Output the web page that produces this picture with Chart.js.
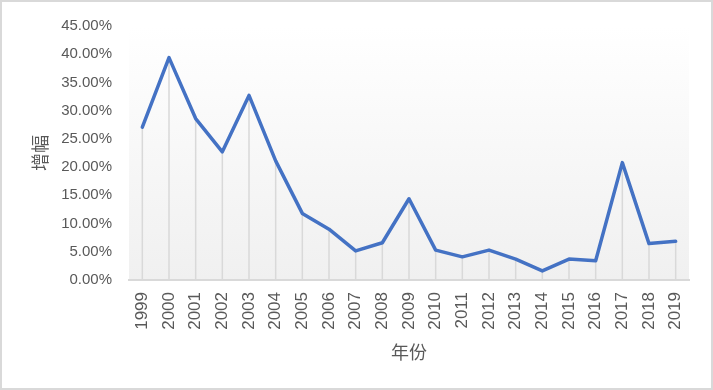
<!DOCTYPE html>
<html>
<head>
<meta charset="utf-8">
<script src="https://cdn.jsdelivr.net/npm/chart.js@4"></script>
<style>
  html, body { margin: 0; padding: 0; background: #fff; }
  #box { width: 713px; height: 390px; position: relative; }
  #chart { outline: 2px solid #d9d9d9; outline-offset: -2px; }
</style>
</head>
<body>
<div id="box"><canvas id="chart" width="713" height="390"></canvas></div>
<script>
const years = ['1999', '2000', '2001', '2002', '2003', '2004', '2005', '2006', '2007', '2008', '2009',
    '2010', '2011', '2012', '2013', '2014', '2015', '2016', '2017', '2018', '2019'];
const growth = [0.2707, 0.394, 0.286, 0.227, 0.327, 0.211, 0.118, 0.09, 0.0515, 0.066, 0.144,
    0.053, 0.041, 0.053, 0.037, 0.016, 0.037, 0.034, 0.208, 0.0645, 0.0686];
const yTicks = [0, 0.05, 0.10, 0.15, 0.20, 0.25, 0.30, 0.35, 0.40, 0.45];

const textColor = '#595959';

// light gradient behind the plot area
const plotBackground = {
    id: 'plotBackground',
    beforeDraw(chart) {
        const { ctx, chartArea } = chart;
        const grad = ctx.createLinearGradient(0, chartArea.top, 0, chartArea.bottom);
        grad.addColorStop(0, '#ffffff');
        grad.addColorStop(1, '#f0f0f0');
        ctx.save();
        ctx.fillStyle = grad;
        ctx.fillRect(chartArea.left, chartArea.top, chartArea.right - chartArea.left, chartArea.bottom - chartArea.top);
        ctx.restore();
    }
};

// vertical drop lines from each point to the axis
const dropLines = {
    id: 'dropLines',
    beforeDatasetsDraw(chart) {
        const { ctx } = chart;
        const meta = chart.getDatasetMeta(0);
        const base = chart.scales.y.getPixelForValue(0);
        ctx.save();
        ctx.strokeStyle = '#d9d9d9';
        ctx.lineWidth = 1.5;
        meta.data.forEach(pt => {
            ctx.beginPath();
            ctx.moveTo(pt.x, pt.y);
            ctx.lineTo(pt.x, base);
            ctx.stroke();
        });
        ctx.restore();
    }
};

const ctx = document.getElementById('chart');
const chart = new Chart(ctx, {
    type: 'line',
    data: {
        labels: years,
        datasets: [{
            data: growth,
            borderColor: '#4472C4',
            borderWidth: 3.5,
            borderCapStyle: 'round',
            borderJoinStyle: 'round',
            pointRadius: 0,
            tension: 0
        }]
    },
    options: {
        responsive: false,
        animation: false,
        layout: { padding: { top: 24, right: 24, left: 0, bottom: 0 } },
        plugins: {
            legend: { display: false },
            tooltip: { enabled: false }
        },
        scales: {
            x: {
                offset: true,
                grid: { display: false, drawTicks: false },
                border: { display: true, color: '#d9d9d9', width: 2 },
                ticks: {
                    color: textColor,
                    font: { family: 'Liberation Sans', size: 17 },
                    minRotation: 90,
                    maxRotation: 90,
                    padding: 12,
                    autoSkip: false
                },
                title: {
                    display: true,
                    text: '年份',
                    color: textColor,
                    font: { family: 'Noto Sans CJK SC', size: 18 },
                    padding: { top: 0, bottom: 27.5 }
                },
                afterFit(scale) { scale.height = 110; }
            },
            y: {
                min: 0,
                max: 0.45,
                grid: { display: false, drawTicks: false },
                border: { display: false },
                afterBuildTicks(scale) { scale.ticks = yTicks.map(v => ({ value: v })); },
                ticks: {
                    color: textColor,
                    font: { family: 'Liberation Sans', size: 15 },
                    padding: 17,
                    callback: v => (v * 100).toFixed(2) + '%'
                },
                title: {
                    display: true,
                    text: '增幅',
                    color: textColor,
                    font: { family: 'Noto Sans CJK SC', size: 18 },
                    padding: { top: 29, bottom: 0 }
                },
                afterFit(scale) { scale.width = 129; }
            }
        }
    },
    plugins: [plotBackground, dropLines]
});
</script>
</body>
</html>
